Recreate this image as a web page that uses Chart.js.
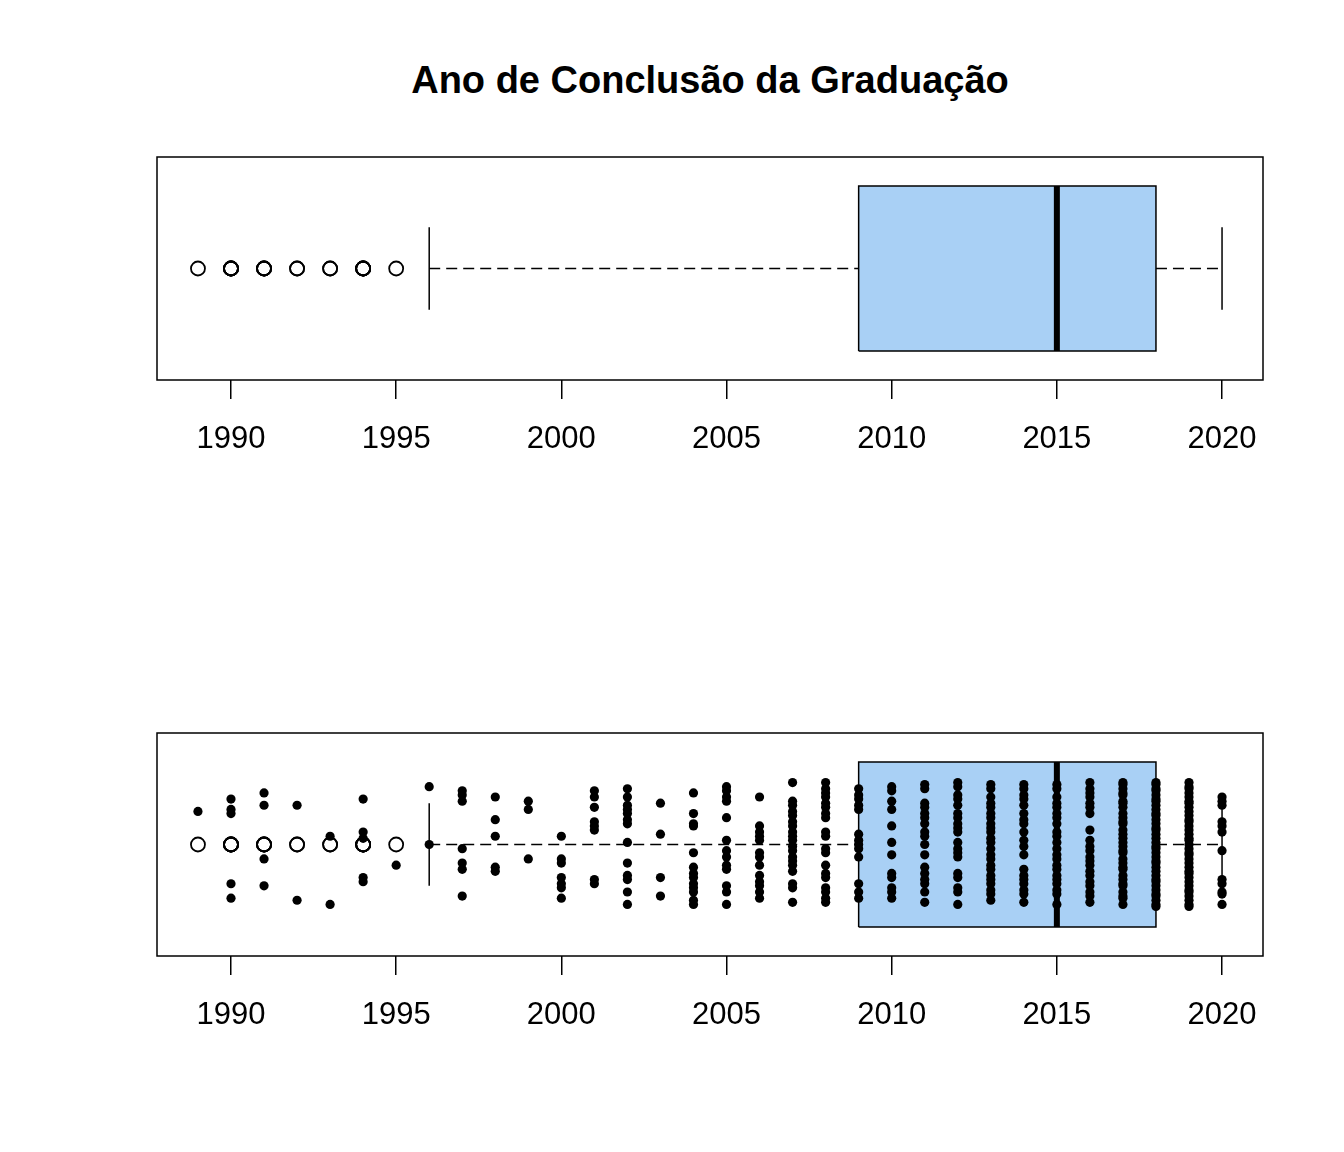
<!DOCTYPE html>
<html>
<head>
<meta charset="utf-8">
<title>Ano de Conclusão da Graduação</title>
<script src="https://cdn.jsdelivr.net/npm/chart.js@4.4.1/dist/chart.umd.min.js"></script>
<style>
  body { margin: 0; background: #fff; }
  #wrap { position: relative; width: 1344px; height: 1152px; }
  #wrap canvas { position: absolute; left: 0; }
  #titulo {
    position: absolute; left: 0; top: 59px; width: 1420px;
    text-align: center; color: #000;
    font: bold 38px "Liberation Sans", Arial, sans-serif;
  }
</style>
</head>
<body>
<div id="wrap">
  <div id="titulo">Ano de Conclusão da Graduação</div>
  <canvas id="painelTopo" width="1344" height="576" style="top:0"></canvas>
  <canvas id="painelBase" width="1344" height="576" style="top:576px"></canvas>
</div>
<script>
// estatísticas do boxplot: [limite inferior, Q1, mediana, Q3, limite superior]
const boxStats = [1996, 2009, 2015, 2018, 2020];
const tickYears = [1990, 1995, 2000, 2005, 2010, 2015, 2020];
const boxColor = '#a9d0f5';

// anos e deslocamentos verticais (jitter) de cada ponto do stripchart
const jitterYears = [1989, 1990, 1991, 1992, 1993, 1994, 1995, 1996, 1997, 1998,
    1999, 2000, 2001, 2002, 2003, 2004, 2005, 2006, 2007, 2008,
    2009, 2010, 2011, 2012, 2013, 2014, 2015, 2016, 2017, 2018, 2019, 2020];
const jitterOffsets = [
    [0.16],
    [0.22, 0.17, 0.15, -0.19, -0.26],
    [0.25, 0.19, -0.07, -0.20],
    [0.19, -0.27],
    [0.04, -0.29],
    [0.22, 0.06, 0.03, -0.16, -0.18],
    [-0.10],
    [0.28, 0.00],
    [0.26, 0.24, 0.21, -0.02, -0.09, -0.12, -0.25],
    [0.23, 0.12, 0.04, -0.11, -0.13],
    [0.21, 0.17, -0.07],
    [0.04, -0.07, -0.09, -0.16, -0.19, -0.21, -0.26],
    [0.26, 0.23, 0.18, 0.11, 0.09, 0.07, -0.17, -0.19],
    [0.27, 0.23, 0.19, 0.17, 0.15, 0.12, 0.10, 0.01, -0.09, -0.15, -0.17, -0.23, -0.29],
    [0.20, 0.05, -0.16, -0.25],
    [0.25, 0.15, 0.10, 0.09, -0.04, -0.11, -0.14, -0.16, -0.19, -0.21, -0.23, -0.27, -0.29],
    [0.28, 0.26, 0.23, 0.21, 0.13, 0.02, -0.03, -0.06, -0.10, -0.12, -0.20, -0.23, -0.29],
    [0.23, 0.09, 0.06, 0.04, 0.02, -0.04, -0.06, -0.10, -0.15, -0.18, -0.20, -0.23, -0.26],
    [0.30, 0.21, 0.19, 0.16, 0.14, 0.11, 0.09, 0.06, 0.04, 0.02, -0.01, -0.03, -0.06, -0.08, -0.10, -0.13, -0.19, -0.21, -0.28],
    [0.30, 0.27, 0.25, 0.23, 0.20, 0.18, 0.15, 0.13, 0.06, 0.04, -0.02, -0.04, -0.10, -0.14, -0.16, -0.21, -0.23, -0.26, -0.28],
    [0.27, 0.24, 0.22, 0.19, 0.17, 0.05, 0.02, 0.00, -0.02, -0.06, -0.19, -0.23, -0.26],
    [0.28, 0.26, 0.21, 0.17, 0.09, 0.01, -0.05, -0.14, -0.16, -0.21, -0.23, -0.26],
    [0.29, 0.27, 0.20, 0.18, 0.15, 0.13, 0.10, 0.06, 0.04, 0.00, -0.05, -0.11, -0.14, -0.17, -0.19, -0.23, -0.28],
    [0.30, 0.28, 0.24, 0.22, 0.19, 0.15, 0.13, 0.10, 0.08, 0.06, 0.01, -0.02, -0.04, -0.06, -0.14, -0.16, -0.21, -0.23, -0.29],
    [0.29, 0.27, 0.23, 0.20, 0.18, 0.15, 0.13, 0.10, 0.08, 0.06, 0.03, 0.01, -0.02, -0.05, -0.07, -0.10, -0.12, -0.15, -0.17, -0.19, -0.22, -0.24, -0.27],
    [0.29, 0.27, 0.24, 0.22, 0.19, 0.15, 0.12, 0.10, 0.06, 0.02, -0.01, -0.05, -0.12, -0.15, -0.17, -0.19, -0.22, -0.24, -0.28],
    [0.29, 0.27, 0.23, 0.20, 0.18, 0.15, 0.13, 0.10, 0.06, 0.04, 0.01, -0.02, -0.05, -0.07, -0.10, -0.12, -0.15, -0.17, -0.19, -0.22, -0.24, -0.29],
    [0.30, 0.27, 0.25, 0.23, 0.20, 0.18, 0.15, 0.07, 0.02, -0.01, -0.03, -0.06, -0.08, -0.10, -0.13, -0.15, -0.18, -0.20, -0.23, -0.25, -0.28],
    [0.30, 0.29, 0.27, 0.25, 0.24, 0.21, 0.20, 0.18, 0.15, 0.13, 0.11, 0.10, 0.07, 0.05, 0.03, 0.01, -0.01, -0.03, -0.04, -0.07, -0.09, -0.11, -0.12, -0.15, -0.17, -0.19, -0.20, -0.23, -0.25, -0.26, -0.29],
    [0.30, 0.29, 0.27, 0.26, 0.24, 0.22, 0.21, 0.19, 0.17, 0.15, 0.14, 0.12, 0.10, 0.08, 0.07, 0.05, 0.03, 0.01, -0.01, -0.02, -0.04, -0.06, -0.08, -0.09, -0.11, -0.13, -0.15, -0.17, -0.18, -0.20, -0.22, -0.24, -0.25, -0.27, -0.29, -0.30],
    [0.30, 0.28, 0.27, 0.25, 0.23, 0.21, 0.20, 0.18, 0.16, 0.14, 0.12, 0.11, 0.09, 0.07, 0.05, 0.03, 0.02, 0.00, -0.02, -0.04, -0.05, -0.07, -0.09, -0.11, -0.13, -0.14, -0.16, -0.18, -0.20, -0.22, -0.23, -0.25, -0.27, -0.29, -0.30],
    [0.23, 0.21, 0.19, 0.11, 0.09, 0.06, -0.03, -0.17, -0.19, -0.23, -0.24, -0.29]
];

// eixo x como no R: amplitude dos dados estendida em 4%
const dataMin = jitterYears[0], dataMax = jitterYears[jitterYears.length - 1];
const xPad = (dataMax - dataMin) * 0.04;

// moldura do gráfico (box() do R)
const framePlugin = {
    id: 'frame',
    afterDatasetsDraw: function (chart) {
        const ctx = chart.ctx, a = chart.chartArea;
        ctx.save();
        ctx.strokeStyle = '#000';
        ctx.lineWidth = 1.5;
        ctx.strokeRect(a.left, a.top, a.right - a.left, a.bottom - a.top);
        ctx.restore();
    }
};

function lineSet(points, extra) {
    return Object.assign({
        data: points,
        showLine: true,
        pointRadius: 0,
        borderColor: '#000',
        borderWidth: 1.5,
        tension: 0,
        fill: false
    }, extra);
}

function makePanel(canvasId, withPoints) {
    const [lo, q1, med, q3, hi] = boxStats;
    const mid = 1, boxHalf = 0.4, stapleHalf = 0.2;

    const outliers = [];
    const jitterPts = [];
    jitterYears.forEach(function (year, i) {
        jitterOffsets[i].forEach(function (off) {
            if (year < lo || year > hi) outliers.push({ x: year, y: mid });
            jitterPts.push({ x: year, y: mid + off });
        });
    });

    const datasets = [
        lineSet([{ x: q1, y: mid - boxHalf }, { x: q3, y: mid - boxHalf }, { x: q3, y: mid + boxHalf },
                 { x: q1, y: mid + boxHalf }, { x: q1, y: mid - boxHalf }],
            { fill: 'shape', backgroundColor: boxColor, order: 5 }),
        lineSet([{ x: med, y: mid - boxHalf }, { x: med, y: mid + boxHalf }],
            { borderWidth: 6, borderCapStyle: 'butt', order: 4 }),
        lineSet([{ x: lo, y: mid }, { x: q1, y: mid }], { borderDash: [11, 6], order: 6 }),
        lineSet([{ x: q3, y: mid }, { x: hi, y: mid }], { borderDash: [11, 6], order: 6 }),
        lineSet([{ x: lo, y: mid - stapleHalf }, { x: lo, y: mid + stapleHalf }], { order: 6 }),
        lineSet([{ x: hi, y: mid - stapleHalf }, { x: hi, y: mid + stapleHalf }], { order: 6 }),
        {
            data: outliers,
            pointRadius: 7,
            pointBorderWidth: 1.8,
            pointBorderColor: '#000',
            pointBackgroundColor: 'rgba(0,0,0,0)',
            order: 2
        }
    ];
    if (withPoints) {
        datasets.push({
            data: jitterPts,
            pointRadius: 4.6,
            pointBorderWidth: 0,
            pointBackgroundColor: '#000',
            order: 1
        });
    }

    return new Chart(document.getElementById(canvasId), {
        type: 'scatter',
        data: { datasets: datasets },
        options: {
            responsive: false,
            animation: false,
            events: [],
            layout: { padding: { left: 157, right: 81, top: 157, bottom: 96 } },
            plugins: {
                legend: { display: false },
                tooltip: { enabled: false }
            },
            scales: {
                x: {
                    type: 'linear',
                    min: dataMin - xPad,
                    max: dataMax + xPad,
                    afterBuildTicks: function (scale) {
                        scale.ticks = tickYears.map(function (v) { return { value: v }; });
                    },
                    afterFit: function (scale) { scale.height = 100; },
                    border: { display: false },
                    grid: {
                        drawOnChartArea: false,
                        drawTicks: true,
                        tickLength: 19,
                        color: '#000',
                        lineWidth: 1.5
                    },
                    ticks: {
                        color: '#000',
                        padding: 22,
                        autoSkip: false,
                        maxRotation: 0,
                        font: { family: '"Liberation Sans", Arial, sans-serif', size: 31 },
                        callback: function (value) { return String(value); }
                    }
                },
                y: { display: false, min: 0.46, max: 1.54 }
            }
        },
        plugins: [framePlugin]
    });
}

makePanel('painelTopo', false);
makePanel('painelBase', true);
</script>
</body>
</html>
